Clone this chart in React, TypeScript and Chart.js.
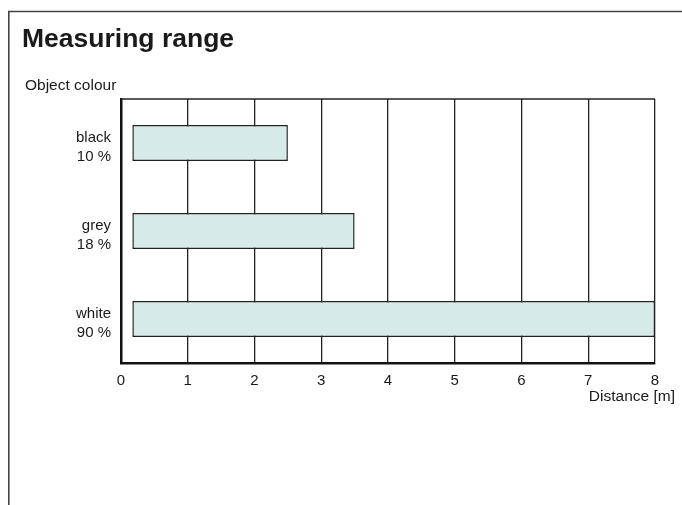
import React, { useEffect, useRef } from "react";
import { Chart, registerables } from "chart.js";

Chart.register(...registerables);

const categories: string[][] = [["black", "10 %"], ["grey", "18 %"], ["white", "90 %"]];
const rangeStart: number[] = [0.17, 0.17, 0.17];
const rangeEnd: number[] = [2.5, 3.5, 8];
const xTicks: number[] = [0, 1, 2, 3, 4, 5, 6, 7, 8];
const titleText = "Measuring range";
const yAxisText = "Object colour";
const xAxisText = "Distance [m]";

const FONT = "'Liberation Sans', Arial, Helvetica, sans-serif";

const decorPlugin = {
  id: "decor",
  beforeDraw(chart: any) {
    const ctx = chart.ctx;
    ctx.save();
    ctx.fillStyle = "#fff";
    ctx.fillRect(0, 0, chart.width, chart.height);
    // outer frame
    ctx.strokeStyle = "#444";
    ctx.lineWidth = 1.6;
    ctx.beginPath();
    ctx.moveTo(8.8, chart.height);
    ctx.lineTo(8.8, 11.5);
    ctx.lineTo(chart.width, 11.5);
    ctx.stroke();
    // title
    ctx.fillStyle = "#1a1a1a";
    ctx.textBaseline = "alphabetic";
    ctx.textAlign = "left";
    ctx.font = `bold 26.5px ${FONT}`;
    ctx.fillText(titleText, 22, 47);
    ctx.font = `15.5px ${FONT}`;
    ctx.fillText(yAxisText, 25, 90);
    ctx.textAlign = "right";
    ctx.fillText(xAxisText, 675, 401);
    ctx.restore();
  },
  afterDatasetsDraw(chart: any) {
    const ctx = chart.ctx;
    const a = chart.chartArea;
    ctx.save();
    ctx.strokeStyle = "#222";
    ctx.lineWidth = 1.3;
    ctx.beginPath();
    ctx.moveTo(a.left, a.top);
    ctx.lineTo(a.right, a.top);
    ctx.stroke();
    ctx.restore();
  },
};

export default function App() {
  const ref = useRef<HTMLCanvasElement>(null);
  useEffect(() => {
    document.body.style.margin = "0";
    const chart = new Chart(ref.current!, {
      type: "bar",
      data: {
        labels: categories,
        datasets: [
          {
            data: rangeStart.map((s, i) => [s, rangeEnd[i]]) as any,
            backgroundColor: "#d6ebe7",
            borderColor: "#222",
            borderWidth: 1.5,
            borderSkipped: false,
            categoryPercentage: 1,
            barPercentage: 0.41,
          },
        ],
      },
      options: {
        indexAxis: "y",
        animation: false,
        responsive: false,
        devicePixelRatio: 1,
        layout: { padding: { left: 0, top: 99, right: 27, bottom: 112 } },
        plugins: { legend: { display: false }, tooltip: { enabled: false }, title: { display: false } },
        scales: {
          x: {
            type: "linear",
            min: xTicks[0],
            max: xTicks[xTicks.length - 1],
            afterFit: (s: any) => { s.height = 30; },
            afterBuildTicks: (s: any) => { s.ticks = xTicks.map((v) => ({ value: v })); },
            ticks: { color: "#1a1a1a", font: { family: FONT, size: 15 }, padding: 9, maxRotation: 0 },
            grid: { color: "#222", lineWidth: 1.3, drawTicks: false },
            border: { color: "#111", width: 2.5 },
          },
          y: {
            afterFit: (s: any) => { s.width = 121; },
            ticks: { color: "#1a1a1a", font: { family: FONT, size: 15, lineHeight: 1.27 }, padding: 10, crossAlign: "near", labelOffset: 4 },
            grid: { display: false, drawTicks: false },
            border: { color: "#111", width: 2.5 },
          },
        },
      },
      plugins: [decorPlugin],
    });
    return () => chart.destroy();
  }, []);
  return (
    <div style={{ width: 682, height: 505 }}>
      <canvas ref={ref} width={682} height={505} style={{ display: "block", width: 682, height: 505 }} />
    </div>
  );
}
